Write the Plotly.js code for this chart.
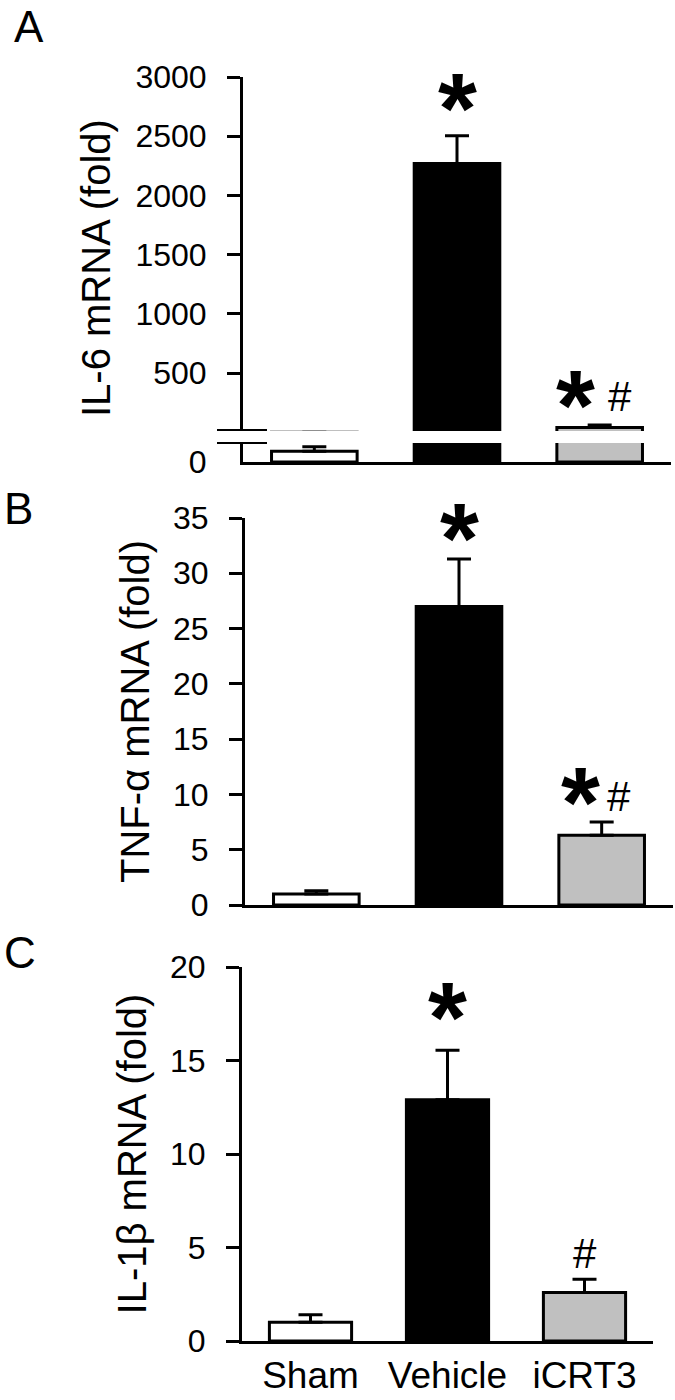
<!DOCTYPE html>
<html>
<head>
<meta charset="utf-8">
<script src="https://cdn.plot.ly/plotly-3.0.1.min.js"></script>
<style>html,body{margin:0;padding:0;background:#fff;}</style>
</head>
<body>
<div id="chart" style="width:675px;height:1400px;"></div>
<script>
// ---- data ----
const groups = ['Sham', 'Vehicle', 'iCRT3'];
const il6Mean = [1.0, 2270, 42];
const il6Err = [0.4, 235, 20];
const tnfMean = [1.0, 27.0, 6.3];
const tnfErr = [0.3, 4.3, 1.2];
const il1bMean = [1.0, 12.9, 2.6];
const il1bErr = [0.4, 2.65, 0.7];
const noErr = [0, 0, 0];
const il6UpperTicks = [500, 1000, 1500, 2000, 2500, 3000];
const il6LowerTicks = [0];
const tnfTicks = [0, 5, 10, 15, 20, 25, 30, 35];
const il1bTicks = [0, 5, 10, 15, 20];
const il6Star = [false, true, true];
const il6Hash = [false, false, true];
const tnfStar = [false, true, true];
const tnfHash = [false, false, true];
const il1bStar = [false, true, false];
const il1bHash = [false, false, true];
const barColors = ['#ffffff', '#000000', '#c0c0c0'];

// ---- layout helpers ----
const W = 675, H = 1400;
const px = p => p / W;
const py = p => 1 - p / H;
const FONT = 'Liberation Sans, Arial, Helvetica, sans-serif';

function bar(xa, ya, mean, err) {
  return {
    type: 'bar', x: groups, y: mean, xaxis: xa, yaxis: ya, width: 0.6,
    marker: {color: barColors, line: {color: '#000', width: 3}},
    error_y: {type: 'data', symmetric: false, array: err, arrayminus: noErr,
              color: '#000', thickness: 3, width: 12},
    showlegend: false, hoverinfo: 'skip'
  };
}

const data = [
  bar('x', 'y', il6Mean, il6Err),
  bar('x', 'y2', il6Mean, il6Err),
  bar('x2', 'y3', tnfMean, tnfErr),
  bar('x3', 'y4', il1bMean, il1bErr)
];

function yAx(top, bot, range, tickvals, anchor, extra) {
  return Object.assign({
    domain: [py(bot), py(top)], range: range, tickvals: tickvals,
    ticks: 'outside', ticklen: 13, tickwidth: 3, tickcolor: '#000',
    showline: true, linewidth: 3, linecolor: '#000',
    showgrid: false, zeroline: false, anchor: anchor,
    tickfont: {family: FONT, size: 32, color: '#000'},
    ticklabelstandoff: 14, fixedrange: true
  }, extra || {});
}
function xAx(left, right, anchor, labels) {
  return {
    domain: [px(left), px(right)], range: [-0.5, 2.5], type: 'category',
    anchor: anchor, showline: true, linewidth: 3, linecolor: '#000',
    ticks: '', showgrid: false, zeroline: false, showticklabels: labels,
    tickfont: {family: FONT, size: 37, color: '#000'},
    ticklabelstandoff: 0, fixedrange: true
  };
}

const titleFont = {family: FONT, size: 40, color: '#000'};

const annotations = [];
function letter(t, x, y) {
  annotations.push({text: t, xref: 'paper', yref: 'paper', x: px(x), y: py(y),
    xanchor: 'center', yanchor: 'middle', showarrow: false,
    font: {family: FONT, size: 44, color: '#000'}});
}
letter('A', 29, 27);
letter('B', 18, 509);
letter('C', 20, 952);

annotations.push({text: 'IL-6 mRNA (fold)', xref: 'paper', yref: 'paper',
  x: px(96), y: py(268), textangle: -90, xanchor: 'center', yanchor: 'middle',
  showarrow: false, font: titleFont});

const STAR = 100, HASH = 42;
function marks(xa, ya, mean, err, star, hash, cfg) {
  groups.forEach((g, i) => {
    const top = mean[i] + err[i];
    const both = star[i] && hash[i];
    if (star[i]) annotations.push({text: '<b>*</b>', xref: xa, yref: ya, x: g, y: top,
      xshift: both ? cfg.sx : 0, yshift: cfg.sy[i] - 0.21 * STAR + 7,
      xanchor: 'center', yanchor: 'middle', showarrow: false,
      font: {family: FONT, size: STAR, color: '#000'}});
    if (hash[i]) annotations.push({text: '#', xref: xa, yref: ya, x: g, y: top,
      xshift: both ? cfg.hx : 0, yshift: cfg.hy,
      xanchor: 'center', yanchor: 'middle', showarrow: false,
      font: {family: FONT, size: HASH, color: '#000'}});
  });
}
marks('x', 'y', il6Mean, il6Err, il6Star, il6Hash, {sx: -24, hx: 20, sy: [0, 42, 34], hy: 29});
marks('x2', 'y3', tnfMean, tnfErr, tnfStar, tnfHash, {sx: -21, hx: 17, sy: [0, 35, 34], hy: 26});
marks('x3', 'y4', il1bMean, il1bErr, il1bStar, il1bHash, {sx: 0, hx: 0, sy: [0, 47, 0], hy: 26});

const layout = {
  width: W, height: H, margin: {l: 0, r: 0, t: 0, b: 0},
  paper_bgcolor: '#fff', plot_bgcolor: 'rgba(0,0,0,0)',
  showlegend: false, bargap: 0.4,
  font: {family: FONT, color: '#000'},
  xaxis: xAx(243, 671, 'y2', false),
  xaxis2: xAx(245, 673, 'y3', false),
  xaxis3: xAx(242, 653, 'y4', true),
  yaxis: yAx(77, 431, [12, 3000], il6UpperTicks, 'x'),
  yaxis2: yAx(443, 462, [0, 1.75], il6LowerTicks, 'x', {tickcolor: 'rgba(0,0,0,0)'}),
  yaxis3: yAx(518, 905, [0, 35], tnfTicks, 'x2',
    {title: {text: 'TNF-α mRNA (fold)', font: titleFont, standoff: 12}}),
  yaxis4: yAx(967, 1341, [0, 20], il1bTicks, 'x3',
    {title: {text: 'IL-1β mRNA (fold)', font: titleFont, standoff: 12}}),
  shapes: [
    {type: 'line', xref: 'paper', yref: 'paper', x0: px(217), x1: px(267), y0: py(430), y1: py(430), line: {color: '#000', width: 2}},
    {type: 'line', xref: 'paper', yref: 'paper', x0: px(217), x1: px(267), y0: py(443), y1: py(443), line: {color: '#000', width: 2}}
  ],
  annotations: annotations
};

Plotly.newPlot('chart', data, layout, {displayModeBar: false, staticPlot: true});
</script>
</body>
</html>
